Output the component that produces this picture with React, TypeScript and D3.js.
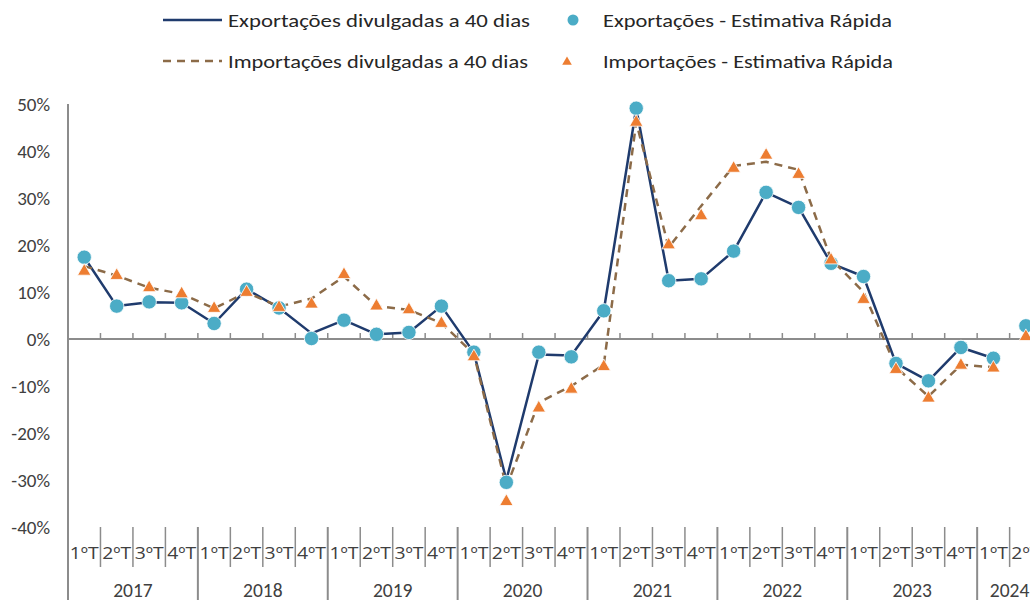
import React from "react";
import * as d3 from "d3";

const years = ["2017", "2018", "2019", "2020", "2021", "2022", "2023", "2024"];
const quarters = ["1ºT", "2ºT", "3ºT", "4ºT"];
const categories: string[] = [];
years.forEach((y) => quarters.forEach((q) => { if (!(y === "2024" && (q === "3ºT" || q === "4ºT"))) categories.push(`${q} ${y}`); }));

const expLine = [17.4, 7.0, 7.8, 7.7, 3.3, 10.6, 6.6, 1.2, 4.0, 1.0, 1.4, 7.0, -2.9, -30.0, -3.3, -3.5, 6.0, 49.1, 12.4, 12.8, 18.7, 31.2, 28.0, 16.1, 13.3, -5.2, -8.9, -1.8, -4.1];
const expEst = [17.4, 7.0, 7.9, 7.7, 3.3, 10.6, 6.6, 0.1, 4.0, 1.0, 1.4, 7.0, -2.8, -30.5, -2.8, -3.8, 6.0, 49.1, 12.4, 12.8, 18.7, 31.2, 28.0, 16.1, 13.3, -5.2, -8.9, -1.8, -4.1, 2.8];
const impLine = [15.5, 13.5, 10.9, 9.6, 6.5, 9.9, 6.9, 8.6, 13.3, 7.0, 6.2, 3.4, -3.2, -31.5, -13.5, -10.0, -5.5, 46.1, 19.5, 28.3, 36.8, 37.7, 36.0, 17.0, 10.0, -6.0, -12.2, -5.5, -6.0];
const impEst = [14.4, 13.5, 10.9, 9.6, 6.5, 9.9, 6.7, 7.4, 13.7, 7.0, 6.2, 3.3, -3.8, -34.6, -14.7, -10.7, -5.9, 46.1, 20.0, 26.2, 36.3, 39.1, 35.0, 16.8, 8.4, -6.5, -12.6, -5.6, -6.2, 0.5];
const yTicks = [50, 40, 30, 20, 10, 0, -10, -20, -30, -40];

const legendItems = [
  { label: "Exportações divulgadas  a 40 dias", kind: "line" },
  { label: "Exportações - Estimativa Rápida", kind: "circle" },
  { label: "Importações divulgadas a 40 dias", kind: "dash" },
  { label: "Importações - Estimativa Rápida", kind: "tri" },
];

const NAVY = "#1F3B6D";
const TEAL = "#4BACC6";
const ORANGE = "#ED7D31";
const BROWN = "#8C6B48";
const AXIS = "#8C8C8C";
const FONT = "Carlito, 'Liberation Sans Narrow', 'Liberation Sans', Arial, sans-serif";
const QFONT = "'Open Sans', 'Noto Sans', 'DejaVu Sans', sans-serif";

export default function App() {
  const W = 1030, H = 600;
  const x0 = 68, bw = 32.47;
  const x = d3.scaleBand<string>().domain(categories).range([x0, x0 + bw * categories.length]).padding(0);
  const y = d3.scaleLinear().domain([-40, 50]).range([527, 104]);
  const cx = (i: number) => (x(categories[i]) as number) + x.bandwidth() / 2;

  const line = d3.line<number>().x((_, i) => cx(i)).y((d) => y(d));
  const tri = d3.symbol().type(d3.symbolTriangle).size(78)();

  const yearGroups = years.map((yr) => {
    const idx = categories.map((c, i) => (c.endsWith(yr) ? i : -1)).filter((i) => i >= 0);
    return { yr, start: idx[0], end: idx[idx.length - 1] };
  });

  return (
    <svg width={W} height={H} style={{ position: "absolute", left: 0, top: 0, background: "#fff" }} fontFamily={FONT}>
      <rect width={W} height={H} fill="#fff" />
      {/* legend */}
      <g fontSize={19} fill="#262626">
        <line x1={163} x2={222} y1={20} y2={20} stroke={NAVY} strokeWidth={2.5} />
        <text x={228} y={27} textLength={302} lengthAdjust="spacingAndGlyphs">{legendItems[0].label}</text>
        <circle cx={573} cy={20} r={5.5} fill={TEAL} />
        <text x={603} y={27} textLength={289} lengthAdjust="spacingAndGlyphs">{legendItems[1].label}</text>
        <line x1={163} x2={222} y1={61} y2={61} stroke={BROWN} strokeWidth={2.5} strokeDasharray="8,6" />
        <text x={228} y={68} textLength={300} lengthAdjust="spacingAndGlyphs">{legendItems[2].label}</text>
        <path d={d3.symbol().type(d3.symbolTriangle).size(40)() as string} transform={`translate(567,62)`} fill={ORANGE} />
        <text x={603} y={68} textLength={290} lengthAdjust="spacingAndGlyphs">{legendItems[3].label}</text>
      </g>
      {/* y axis labels */}
      <g fontSize={19} fill="#404040" textAnchor="end">
        {yTicks.map((t) => (
          <text key={t} x={50} y={y(t) + 6.5}>{`${t}%`}</text>
        ))}
      </g>
      {/* axes */}
      <line x1={x0} x2={x0} y1={y(50)} y2={H} stroke={AXIS} strokeWidth={2} />
      <line x1={x0} x2={W + 20} y1={y(0)} y2={y(0)} stroke={AXIS} strokeWidth={2} />
      {categories.map((c, i) => i > 0 ? (
        <line key={"t" + c} x1={x(c) as number} x2={x(c) as number} y1={y(0) - 6} y2={y(0)} stroke={AXIS} strokeWidth={1.5} />
      ) : null)}
      {/* category axis */}
      {categories.map((c, i) => {
        const isYear = c.startsWith("1ºT");
        const xx = x(c) as number;
        return i > 0 ? (
          <line key={"s" + c} x1={xx} x2={xx} y1={527} y2={isYear ? H : 567} stroke={AXIS} strokeWidth={isYear ? 2 : 1.5} />
        ) : null;
      })}
      <g fontSize={17} fill="#404040" textAnchor="middle">
        {categories.map((c, i) => (
          <text key={"q" + c} x={cx(i)} y={559} fontFamily={QFONT} textLength={29} lengthAdjust="spacingAndGlyphs">{c.split(" ")[0]}</text>
        ))}
        {yearGroups.map((g) => {
          const xs = (x(categories[g.start]) as number);
          const xe = (x(categories[g.end]) as number) + x.bandwidth();
          return <text key={g.yr} x={(xs + xe) / 2} y={597} fontSize={19.5}>{g.yr}</text>;
        })}
      </g>
      {/* series lines */}
      <path d={line(expLine) as string} fill="none" stroke={NAVY} strokeWidth={2.5} strokeLinejoin="round" />
      <path d={line(impLine) as string} fill="none" stroke={BROWN} strokeWidth={2.5} strokeDasharray="8,6" strokeLinejoin="round" />
      {expEst.map((v, i) => (
        <circle key={"c" + i} cx={cx(i)} cy={y(v)} r={7.2} fill={TEAL} stroke="#fff" strokeWidth={0.8} />
      ))}
      {impEst.map((v, i) => (
        <path key={"tr" + i} d={tri as string} transform={`translate(${cx(i)},${y(v)})`} fill={ORANGE} stroke="#fff" strokeWidth={0.8} />
      ))}
    </svg>
  );
}
